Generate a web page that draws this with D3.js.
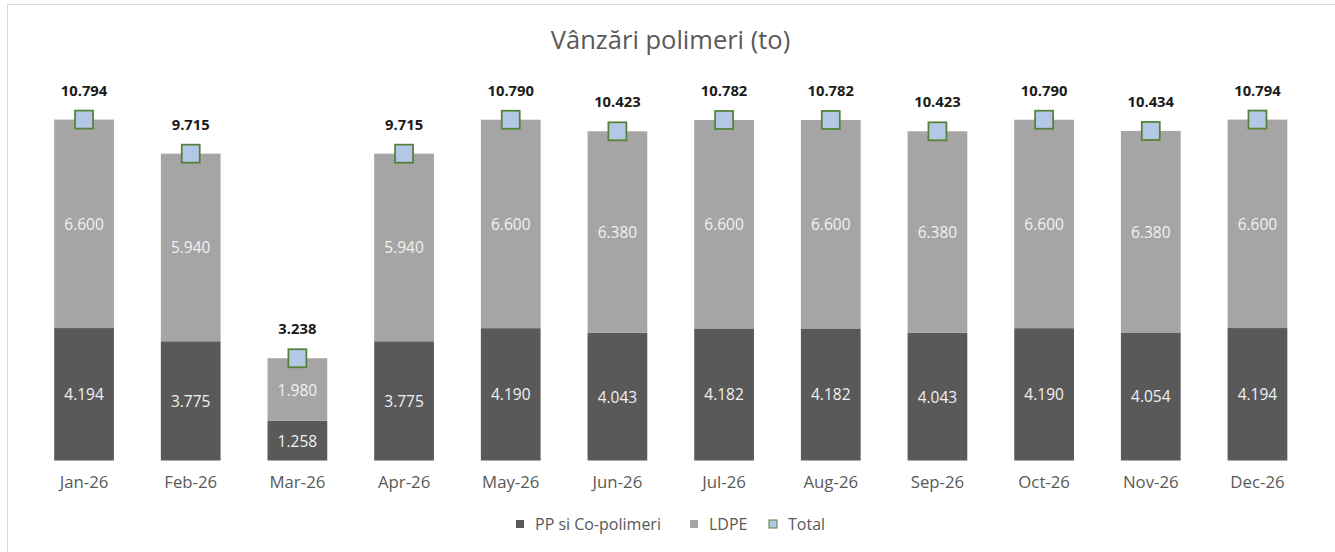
<!DOCTYPE html>
<html>
<head>
<meta charset="utf-8">
<script src="https://cdn.jsdelivr.net/npm/d3@7"></script>
<style>
  html, body { margin: 0; padding: 0; background: #fff; }
  svg { display: block; font-family: "Open Sans", "Noto Sans", sans-serif; }
</style>
</head>
<body>
<svg id="chart" width="1335" height="552"></svg>
<script>
const categories = ["Jan-26","Feb-26","Mar-26","Apr-26","May-26","Jun-26","Jul-26","Aug-26","Sep-26","Oct-26","Nov-26","Dec-26"];
const ppValues   = [4194, 3775, 1258, 3775, 4190, 4043, 4182, 4182, 4043, 4190, 4054, 4194];
const ldpeValues = [6600, 5940, 1980, 5940, 6600, 6380, 6600, 6600, 6380, 6600, 6380, 6600];
const totalValues = [10794, 9715, 3238, 9715, 10790, 10423, 10782, 10782, 10423, 10790, 10434, 10794];
const seriesNames = ["PP si Co-polimeri", "LDPE", "Total"];
const titleText = "Vânzări polimeri (to)";
const yMax = 12000;

const W = 1335, H = 552;
const svg = d3.select("#chart");
const fmt = d3.formatLocale({decimal: ",", thousands: ".", grouping: [3], currency: ["", ""]}).format(",d");

// chart border
svg.append("rect").attr("x", 7.5).attr("y", 4.5).attr("width", W + 10).attr("height", H + 10)
  .attr("fill", "#fff").attr("stroke", "#d9d9d9").attr("stroke-width", 1);

const x = d3.scaleBand().domain(categories).range([30.7, 1310.8]).paddingInner(0.44).paddingOuter(0.22);
const y = d3.scaleLinear().domain([0, yMax]).range([460.5, 81.5]);

const rows = categories.map((c, i) => ({cat: c, pp: ppValues[i], ldpe: ldpeValues[i], total: totalValues[i]}));
const stack = d3.stack().keys(["pp", "ldpe"])(rows);
const colors = {pp: "#595959", ldpe: "#a5a5a5"};

// title
svg.append("text").attr("x", 670.5).attr("y", 39).attr("text-anchor", "middle")
  .attr("dominant-baseline", "central").attr("fill", "#595959")
  .style("font-size", "25.5px").text(titleText);

// bars
const g = svg.append("g");
stack.forEach(layer => {
  g.append("g").selectAll("rect").data(layer).join("rect")
    .attr("x", d => x(d.data.cat))
    .attr("width", x.bandwidth())
    .attr("y", d => y(d[1]))
    .attr("height", d => y(d[0]) - y(d[1]))
    .attr("fill", colors[layer.key]);
  g.append("g").selectAll("text").data(layer).join("text")
    .attr("x", d => x(d.data.cat) + x.bandwidth() / 2)
    .attr("y", d => (y(d[0]) + y(d[1])) / 2)
    .attr("text-anchor", "middle").attr("dominant-baseline", "central")
    .attr("fill", "#f2f2f2").style("font-size", "15.5px")
    .text(d => fmt(d[1] - d[0]));
});

// total markers
const tot = svg.append("g");
tot.selectAll("rect").data(rows).join("rect")
  .attr("x", d => x(d.cat) + x.bandwidth() / 2 - 9)
  .attr("y", d => y(d.total) - 9)
  .attr("width", 18).attr("height", 18)
  .attr("fill", "#b4c7e7").attr("stroke", "#548235").attr("stroke-width", 1.75);
tot.selectAll("text").data(rows).join("text")
  .attr("x", d => x(d.cat) + x.bandwidth() / 2)
  .attr("y", d => y(d.total) - 30)
  .attr("text-anchor", "middle").attr("dominant-baseline", "central")
  .attr("fill", "#1a1a1a").style("font-size", "14.8px").style("font-weight", "bold")
  .text(d => fmt(d.total));

// x axis
const xAxis = svg.append("g").attr("transform", "translate(0,460.5)")
  .call(d3.axisBottom(x).tickSize(0).tickPadding(16));
xAxis.select(".domain").remove();
xAxis.selectAll("text").attr("fill", "#595959").style("font-size", "16.8px")
  .style("font-family", "'Open Sans', sans-serif");

// legend
const legendItems = [
  {name: seriesNames[0], fill: "#595959", stroke: "none", x: 516},
  {name: seriesNames[1], fill: "#a5a5a5", stroke: "none", x: 690},
  {name: seriesNames[2], fill: "#b4c7e7", stroke: "#548235", x: 769}
];
const lg = svg.append("g");
legendItems.forEach(it => {
  lg.append("rect").attr("x", it.x).attr("y", 520).attr("width", 8).attr("height", 8)
    .attr("fill", it.fill).attr("stroke", it.stroke).attr("stroke-width", 1);
  lg.append("text").attr("x", it.x + 19).attr("y", 524).attr("dominant-baseline", "central")
    .attr("fill", "#595959").style("font-size", "16px").text(it.name);
});
</script>
</body>
</html>
